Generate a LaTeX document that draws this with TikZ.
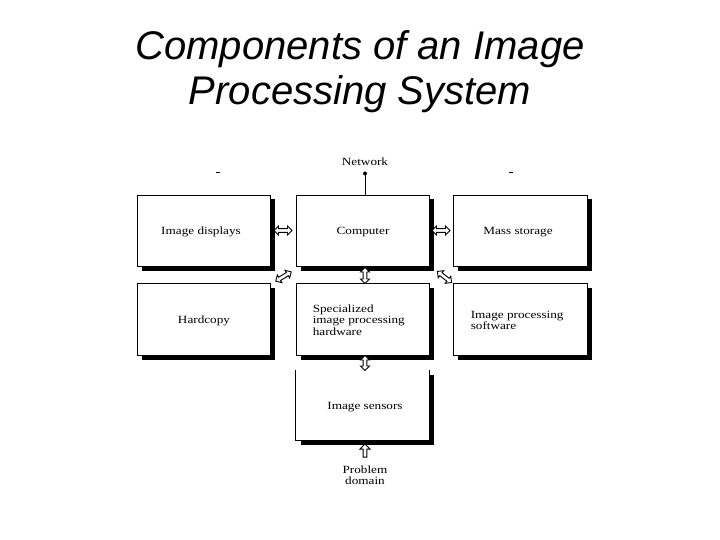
\documentclass[tikz,border=0pt]{standalone}
\usepackage{fontspec}
\setmainfont{Liberation Serif}
\newfontfamily\titlefont{Liberation Sans}
\newfontfamily\diagfont[FakeStretch=1.2]{Liberation Serif}
\usetikzlibrary{shapes.arrows,shadows,calc}
\tikzset{
  boxstyle/.style={rectangle, draw=black, line width=0.8pt, fill=white, inner sep=0pt,
    minimum width=133pt, minimum height=71pt,
    drop shadow={shadow xshift=4.5pt, shadow yshift=-4.5pt, opacity=1, fill=black}},
  openbox/.style={rectangle, draw=none, fill=white, inner sep=0pt,
    minimum width=133pt, minimum height=70pt,
    drop shadow={shadow xshift=4.5pt, shadow yshift=-4.5pt, opacity=1, fill=black}},
  lbl/.style={font=\diagfont\fontsize{11}{11.5}\selectfont, align=left, inner sep=0pt},
  onelbl/.style={lbl, text height=7pt, text depth=2pt},
  darrow/.style={double arrow, draw=black, fill=white, line width=0.9pt, inner sep=1pt,
    minimum height=18pt, minimum width=9pt, double arrow head extend=2pt},
  sarrow/.style={single arrow, draw=black, fill=white, line width=0.9pt, inner sep=1pt,
    minimum height=13pt, minimum width=10pt, single arrow head extend=2.5pt},
}
\begin{document}
\begin{tikzpicture}[x=1pt,y=-1pt]
\useasboundingbox (0,0) rectangle (720,540);
% title
\node[font=\titlefont\itshape\fontsize{40}{45}\selectfont, align=center] (title) at (360,72)
  {Components of an Image\\Processing System};
% boxes
\node[boxstyle] (disp) at (203.5,230.5) {};
\node[boxstyle] (comp) at (362.5,230.5) {};
\node[boxstyle, minimum width=134pt] (mass) at (520,230.5) {};
\node[boxstyle, minimum height=72pt] (hard) at (203.5,319) {};
\node[boxstyle, minimum height=72pt] (spec) at (362.5,319) {};
\node[boxstyle, minimum height=72pt, minimum width=134pt] (soft) at (520,319) {};
\node[openbox] (sens) at (362.5,405) {};
\draw[line width=0.8pt] (sens.north west) -- (sens.south west) -- (sens.south east) -- (sens.north east);
% labels
\node[onelbl] at (201,232.5) {Image displays};
\node[onelbl] at (363,232.5) {Computer};
\node[onelbl] at (518,232.5) {Mass storage};
\node[onelbl] at (204,320.5) {Hardcopy};
\node[lbl, anchor=west] at ($(spec.west)+(17,1)$) {Specialized\\image processing\\hardware};
\node[lbl, anchor=west] at ($(soft.west)+(18,1.5)$) {Image processing\\software};
\node[onelbl] at (365,406.5) {Image sensors};
\node[lbl, align=center] (prob) at (365,475) {Problem\\domain};
\node[onelbl] (net) at (365,163.5) {Network};
% network connection
\coordinate (dot) at (365,173.5);
\fill (dot) circle (2pt);
\draw[line width=0.8pt] (dot) -- (dot |- comp.north);
% small marks
\draw[line width=1pt] (216,172.5) -- (220,172.5);
\draw[line width=1pt] (509,172.5) -- (513,172.5);
% arrows
\node[darrow] (a1) at ($(disp.east)!0.5!(comp.west)$) {};
\node[darrow] (a2) at ($(comp.east)!0.5!(mass.west)$) {};
\node[darrow, rotate=90, minimum height=16pt] (a3) at (365,275.5) {};
\node[darrow, rotate=31] (a4) at (283.5,276.5) {};
\node[darrow, rotate=-38] (a5) at (444.5,277) {};
\node[darrow, rotate=90, minimum height=15pt] (a6) at (365,363) {};
\node[sarrow, rotate=90] (a7) at (365,451.5) {};
\end{tikzpicture}
\end{document}
